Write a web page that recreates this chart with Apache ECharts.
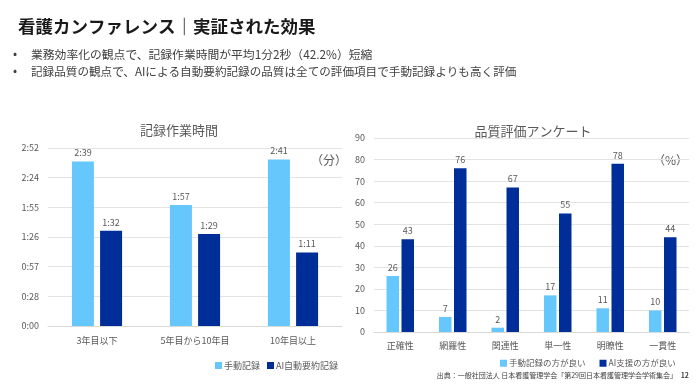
<!DOCTYPE html>
<html><head><meta charset="utf-8">
<script src="https://cdn.jsdelivr.net/npm/echarts@6/dist/echarts.min.js"></script>
<style>html,body{margin:0;padding:0;background:#fff}#c{width:700px;height:388px}</style>
</head><body><div id="c"></div>
<script>
// Left chart: recording time (seconds)
const timeCategories = ['3年目以下', '5年目から10年目', '10年目以上'];
const manualTime = [159, 117, 161];   // 2:39, 1:57, 2:41
const aiTime = [92, 89, 71];          // 1:32, 1:29, 1:11
const timeTickLabels = ['0:00', '0:28', '0:57', '1:26', '1:55', '2:24', '2:52'];
const timeMax = 172;

// Right chart: quality survey (%)
const qualityCategories = ['正確性', '網羅性', '関連性', '単一性', '明瞭性', '一貫性'];
const manualBetter = [26, 7, 2, 17, 11, 10];
const aiBetter = [43, 76, 67, 55, 78, 44];

const LIGHT = '#66C7FC';
const DARK = '#002E99';
const FONT = '"Noto Sans CJK JP", "Noto Sans", sans-serif';
const GRAY = '#595959';

function fmtTime(s) {
  const m = Math.floor(s / 60), r = s % 60;
  return m + ':' + (r < 10 ? '0' : '') + r;
}

const chart = echarts.init(document.getElementById('c'), null, { renderer: 'canvas' });
const timeInterval = timeMax / 6;

chart.setOption({
  backgroundColor: '#fff',
  textStyle: { fontFamily: FONT },
  animation: false,
  title: [
    { text: '看護カンファレンス｜実証された効果', left: 13, top: 13,
      textStyle: { fontFamily: FONT, fontSize: 17.5, fontWeight: 'bold', color: '#1a1a1a' } },
    { text: '記録作業時間', left: 174, top: 119, textAlign: 'center',
      textStyle: { fontFamily: FONT, fontSize: 13, fontWeight: 'normal', color: GRAY } },
    { text: '品質評価アンケート', left: 528, top: 120, textAlign: 'center',
      textStyle: { fontFamily: FONT, fontSize: 13, fontWeight: 'normal', color: GRAY } }
  ],
  graphic: [
    { type: 'text', left: 13, top: 47, style: { text: '•', font: '12px ' + FONT, fill: '#404040' } },
    { type: 'text', left: 31, top: 49, style: { text: '業務効率化の観点で、記録作業時間が平均1分2秒（42.2%）短縮', font: '11.8px ' + FONT, fill: '#404040' } },
    { type: 'text', left: 13, top: 64, style: { text: '•', font: '12px ' + FONT, fill: '#404040' } },
    { type: 'text', left: 31, top: 66, style: { text: '記録品質の観点で、AIによる自動要約記録の品質は全ての評価項目で手動記録よりも高く評価', font: '11.6px ' + FONT, fill: '#404040' } },
    { type: 'text', left: 311, top: 154, style: { text: '（分）', font: '12px ' + FONT, fill: GRAY } },
    { type: 'text', left: 653, top: 154, style: { text: '（%）', font: '12px ' + FONT, fill: GRAY } },
    { type: 'text', right: 23, top: 372, style: { text: '出典：一般社団法人 日本看護管理学会「第29回日本看護管理学会学術集会」', font: '7px ' + FONT, fill: '#404040' } },
    { type: 'text', right: 11, top: 372, style: { text: '12', font: 'bold 7px ' + FONT, fill: '#404040' } }
  ],
  legend: [
    { data: ['手動記録', 'AI自動要約記録'], left: 210, top: 356, itemWidth: 7, itemHeight: 7, itemGap: 7,
      icon: 'rect', textStyle: { fontFamily: FONT, fontSize: 9, color: GRAY, padding: [0, 0, 0, -3] } },
    { data: ['手動記録の方が良い', 'AI支援の方が良い'], left: 495, top: 354, itemWidth: 7, itemHeight: 7, itemGap: 14,
      icon: 'rect', textStyle: { fontFamily: FONT, fontSize: 8.5, color: GRAY, padding: [0, 0, 0, -3] } }
  ],
  grid: [
    { left: 48, top: 148, width: 294, height: 178 },
    { left: 374, top: 138, width: 315, height: 194 }
  ],
  xAxis: [
    { type: 'category', gridIndex: 0, data: timeCategories,
      axisLine: { lineStyle: { color: '#d9d9d9' } }, axisTick: { show: false },
      axisLabel: { fontFamily: FONT, fontSize: 9, color: GRAY, margin: 10 } },
    { type: 'category', gridIndex: 1, data: qualityCategories,
      axisLine: { lineStyle: { color: '#d9d9d9' } }, axisTick: { show: false },
      axisLabel: { fontFamily: FONT, fontSize: 9, color: GRAY, margin: 9 } }
  ],
  yAxis: [
    { type: 'value', gridIndex: 0, min: 0, max: timeMax, interval: timeInterval,
      axisLine: { show: false }, axisTick: { show: false },
      splitLine: { lineStyle: { color: '#e3e3e3' } },
      axisLabel: { fontFamily: FONT, fontSize: 9, color: GRAY, margin: 9,
        formatter: v => timeTickLabels[Math.round(v / timeInterval)] } },
    { type: 'value', gridIndex: 1, min: 0, max: 90, interval: 10,
      axisLine: { show: false }, axisTick: { show: false },
      splitLine: { lineStyle: { color: '#e3e3e3' } },
      axisLabel: { fontFamily: FONT, fontSize: 9, color: GRAY, margin: 9 } }
  ],
  series: [
    { name: '手動記録', type: 'bar', xAxisIndex: 0, yAxisIndex: 0, data: manualTime,
      barWidth: 22, barGap: '28%', itemStyle: { color: LIGHT },
      label: { show: true, position: 'top', distance: 4, fontFamily: FONT, fontSize: 9, color: GRAY,
        formatter: p => fmtTime(p.value) } },
    { name: 'AI自動要約記録', type: 'bar', xAxisIndex: 0, yAxisIndex: 0, data: aiTime,
      barWidth: 22, barGap: '28%', itemStyle: { color: DARK },
      label: { show: true, position: 'top', distance: 4, fontFamily: FONT, fontSize: 9, color: GRAY,
        formatter: p => fmtTime(p.value) } },
    { name: '手動記録の方が良い', type: 'bar', xAxisIndex: 1, yAxisIndex: 1, data: manualBetter,
      barWidth: 12.5, barGap: '20%', itemStyle: { color: LIGHT },
      label: { show: true, position: 'top', distance: 4, fontFamily: FONT, fontSize: 9, color: GRAY } },
    { name: 'AI支援の方が良い', type: 'bar', xAxisIndex: 1, yAxisIndex: 1, data: aiBetter,
      barWidth: 12.5, barGap: '20%', itemStyle: { color: DARK },
      label: { show: true, position: 'top', distance: 4, fontFamily: FONT, fontSize: 9, color: GRAY } }
  ]
});
</script>
</body></html>
